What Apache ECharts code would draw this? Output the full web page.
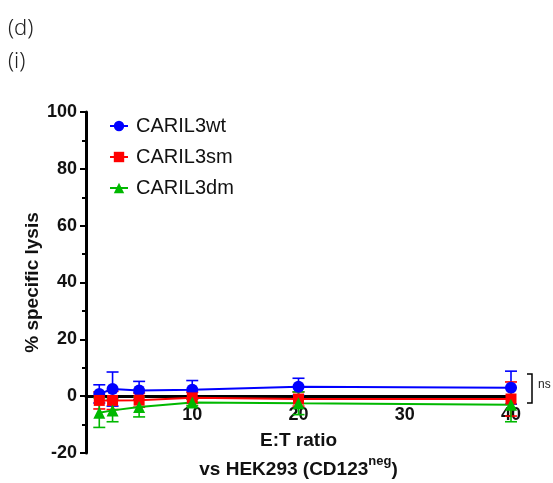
<!DOCTYPE html>
<html><head><meta charset="utf-8">
<script src="https://cdn.jsdelivr.net/npm/echarts@6/dist/echarts.min.js"></script>
<style>html,body{margin:0;padding:0;background:#fff}#c{width:553px;height:483px}</style>
</head><body><div id="c"></div>
<script>
const ratios = [1.25, 2.5, 5, 10, 20, 40];
const wtMean = [0.8, 2.5, 2.0, 2.3, 3.3, 3.0];
const wtErr  = [3.2, 6.0, 3.2, 3.2, 3.0, 5.8];
const smMean = [-1.5, -1.5, -1.4, -0.6, -1.0, -1.0];
const smErr  = [3.0, 3.2, 2.5, 2.0, 2.5, 6.0];
const dmMean = [-5.8, -5.0, -3.8, -2.2, -2.5, -3.0];
const dmErr  = [5.2, 4.0, 3.5, 1.2, 4.0, 6.0];
const seriesNames = ['CARIL3wt', 'CARIL3sm', 'CARIL3dm'];
const colors = ['#0000ff', '#ff0000', '#00b800'];
const symbols = ['circle', 'rect', 'triangle'];
const yTicks = [-20, 0, 20, 40, 60, 80, 100];
const xTicks = [10, 20, 30, 40];

const means = [wtMean, smMean, dmMean];
const errs = [wtErr, smErr, dmErr];
const FONT = 'Liberation Sans, Arial, sans-serif';

const chart = echarts.init(document.getElementById('c'));
const series = [];
means.forEach((m, i) => {
  series.push({
    type: 'line', name: seriesNames[i], z: 3,
    data: ratios.map((x, k) => [x, m[k]]),
    symbol: symbols[i], symbolSize: i === 1 ? 11 : 12,
    showSymbol: true,
    itemStyle: { color: colors[i] },
    lineStyle: { color: colors[i], width: 2 }
  });
});
means.forEach((m, i) => {
  series.push({
    type: 'custom', name: 'err' + i, silent: true, z: 2,
    itemStyle: { color: colors[i] },
    data: ratios.map((x, k) => [x, m[k], errs[i][k]]),
    renderItem: (params, api) => {
      const x = api.value(0), y = api.value(1), e = api.value(2);
      const top = api.coord([x, y + e]);
      const bot = api.coord([x, y - e]);
      const cw = 6;
      const st = { stroke: colors[i], lineWidth: 1.6 };
      return { type: 'group', children: [
        { type: 'line', shape: { x1: top[0], y1: top[1], x2: bot[0], y2: bot[1] }, style: st },
        { type: 'line', shape: { x1: top[0] - cw, y1: top[1], x2: top[0] + cw, y2: top[1] }, style: st },
        { type: 'line', shape: { x1: bot[0] - cw, y1: bot[1], x2: bot[0] + cw, y2: bot[1] }, style: st }
      ]};
    }
  });
});

const option = {
  animation: false,
  textStyle: { fontFamily: FONT },
  grid: { left: 86, right: 42, top: 112, bottom: 30, containLabel: false, outerBoundsMode: 'none' },
  legend: {
    data: seriesNames,
    orient: 'vertical', left: 104, top: 111, itemGap: 11,
    itemWidth: 18, itemHeight: 13,
    textStyle: { fontSize: 20, color: '#111', fontFamily: FONT, padding: [0, 0, 0, 3] }
  },
  xAxis: {
    type: 'value', min: 0, max: 40, interval: 10, offset: 0,
    axisLine: { onZero: false, lineStyle: { color: '#000', width: 3 } },
    axisTick: { show: true, length: 3, lineStyle: { color: '#000', width: 2 } },
    axisLabel: { fontSize: 18, fontWeight: 'bold', color: '#111', margin: 10,
      formatter: v => xTicks.includes(v) ? String(v) : '' },
    splitLine: { show: false },
    name: '{b|E:T ratio}\n{c|vs HEK293 (CD123}{s|neg}{c|)}',
    nameLocation: 'middle', nameGap: 30,
    nameTextStyle: { rich: {
      b: { fontSize: 19, fontWeight: 'bold', color: '#111', lineHeight: 29, fontFamily: FONT },
      c: { fontSize: 19, fontWeight: 'bold', color: '#111', lineHeight: 29, fontFamily: FONT },
      s: { fontSize: 13, fontWeight: 'bold', color: '#111', verticalAlign: 'top', padding: [0, 0, 12, 0], fontFamily: FONT }
    } }
  },
  yAxis: {
    type: 'value', min: -20, max: 100, interval: 20,
    axisLine: { onZero: false, lineStyle: { color: '#000', width: 3 } },
    axisTick: { show: true, length: 6, lineStyle: { color: '#000', width: 2 } },
    minorTick: { show: true, splitNumber: 2, length: 4, lineStyle: { color: '#000', width: 2 } },
    axisLabel: { fontSize: 18, fontWeight: 'bold', color: '#111', margin: 9,
      formatter: v => yTicks.includes(v) ? String(v) : '' },
    splitLine: { show: false },
    name: '% specific lysis', nameLocation: 'middle', nameGap: 44, nameMoveOverlap: false,
    nameTextStyle: { fontSize: 19, fontWeight: 'bold', color: '#111' }
  },
  graphic: [
    { type: 'text', left: 8, top: 18, style: { text: '(d)', fontSize: 22, fill: '#222', fontFamily: 'Noto Sans, sans-serif', fontWeight: 300 } },
    { type: 'text', left: 8, top: 51, style: { text: '(i)', fontSize: 22, fill: '#222', fontFamily: 'Noto Sans, sans-serif', fontWeight: 300 } },
    { type: 'polyline', shape: { points: [[527, 374], [532, 374], [532, 403], [527, 403]] }, style: { stroke: '#000', lineWidth: 1.5, fill: null } },
    { type: 'text', left: 538, top: 379, style: { text: 'ns', fontSize: 12, fill: '#222', fontFamily: FONT } }
  ],
  series: series
};
chart.setOption(option);
// Move the x axis to y = 0 using the library's own y scale
const yZero = chart.convertToPixel({ yAxisIndex: 0 }, 0);
const yMin = chart.convertToPixel({ yAxisIndex: 0 }, -20);
chart.setOption({ xAxis: { offset: yZero - yMin } });
</script></body></html>
